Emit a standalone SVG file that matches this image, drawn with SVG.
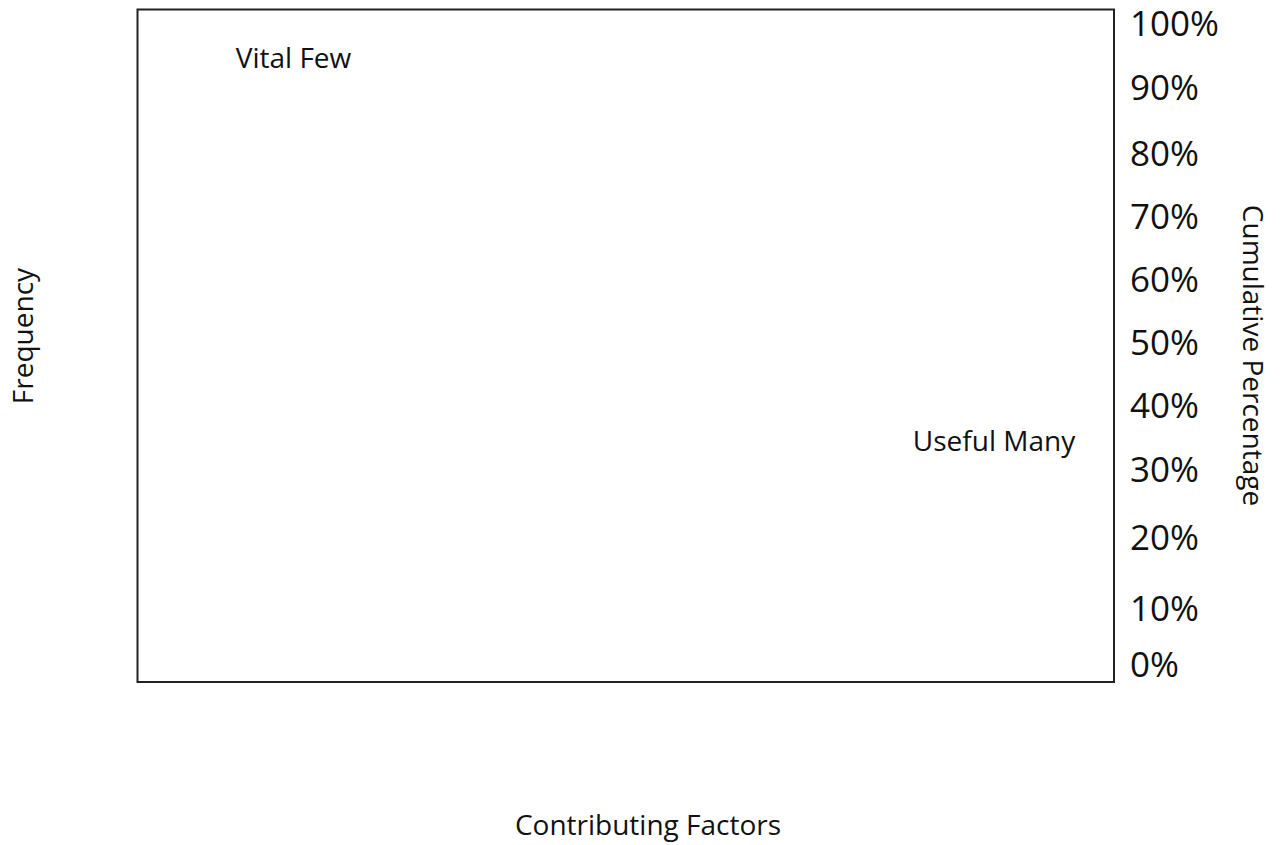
<svg xmlns="http://www.w3.org/2000/svg" width="1280" height="845" viewBox="0 0 1280 845">
<style>
.lbl{font-family:"Open Sans","Liberation Sans",sans-serif;font-size:28px;fill:#111}
.pct{font-family:"Open Sans","Liberation Sans",sans-serif;font-size:35px;fill:#111}
.frame{fill:none;stroke:#222;stroke-width:2}
</style>
<rect width="1280" height="845" fill="#fff"/>
<g id="chart-frame"><rect class="frame" x="137.5" y="9.5" width="976.5" height="672.5"/></g>
<g id="labels">
<text class="lbl" x="293.5" y="68" text-anchor="middle">Vital Few</text>
<text class="lbl" x="994" y="451" text-anchor="middle">Useful Many</text>
<text class="lbl" x="648" y="835" text-anchor="middle">Contributing Factors</text>
<text class="lbl" text-anchor="middle" transform="translate(33,336) rotate(-90)">Frequency</text>
<text class="lbl" text-anchor="middle" transform="translate(1243,355.5) rotate(90)">Cumulative Percentage</text>
</g>
<g id="axis-right">
<text class="pct" x="1130" y="36">100%</text>
<text class="pct" x="1130" y="100">90%</text>
<text class="pct" x="1130" y="166">80%</text>
<text class="pct" x="1130" y="229">70%</text>
<text class="pct" x="1130" y="292">60%</text>
<text class="pct" x="1130" y="355">50%</text>
<text class="pct" x="1130" y="418">40%</text>
<text class="pct" x="1130" y="482">30%</text>
<text class="pct" x="1130" y="550">20%</text>
<text class="pct" x="1130" y="621">10%</text>
<text class="pct" x="1130" y="677">0%</text>
</g>
</svg>
